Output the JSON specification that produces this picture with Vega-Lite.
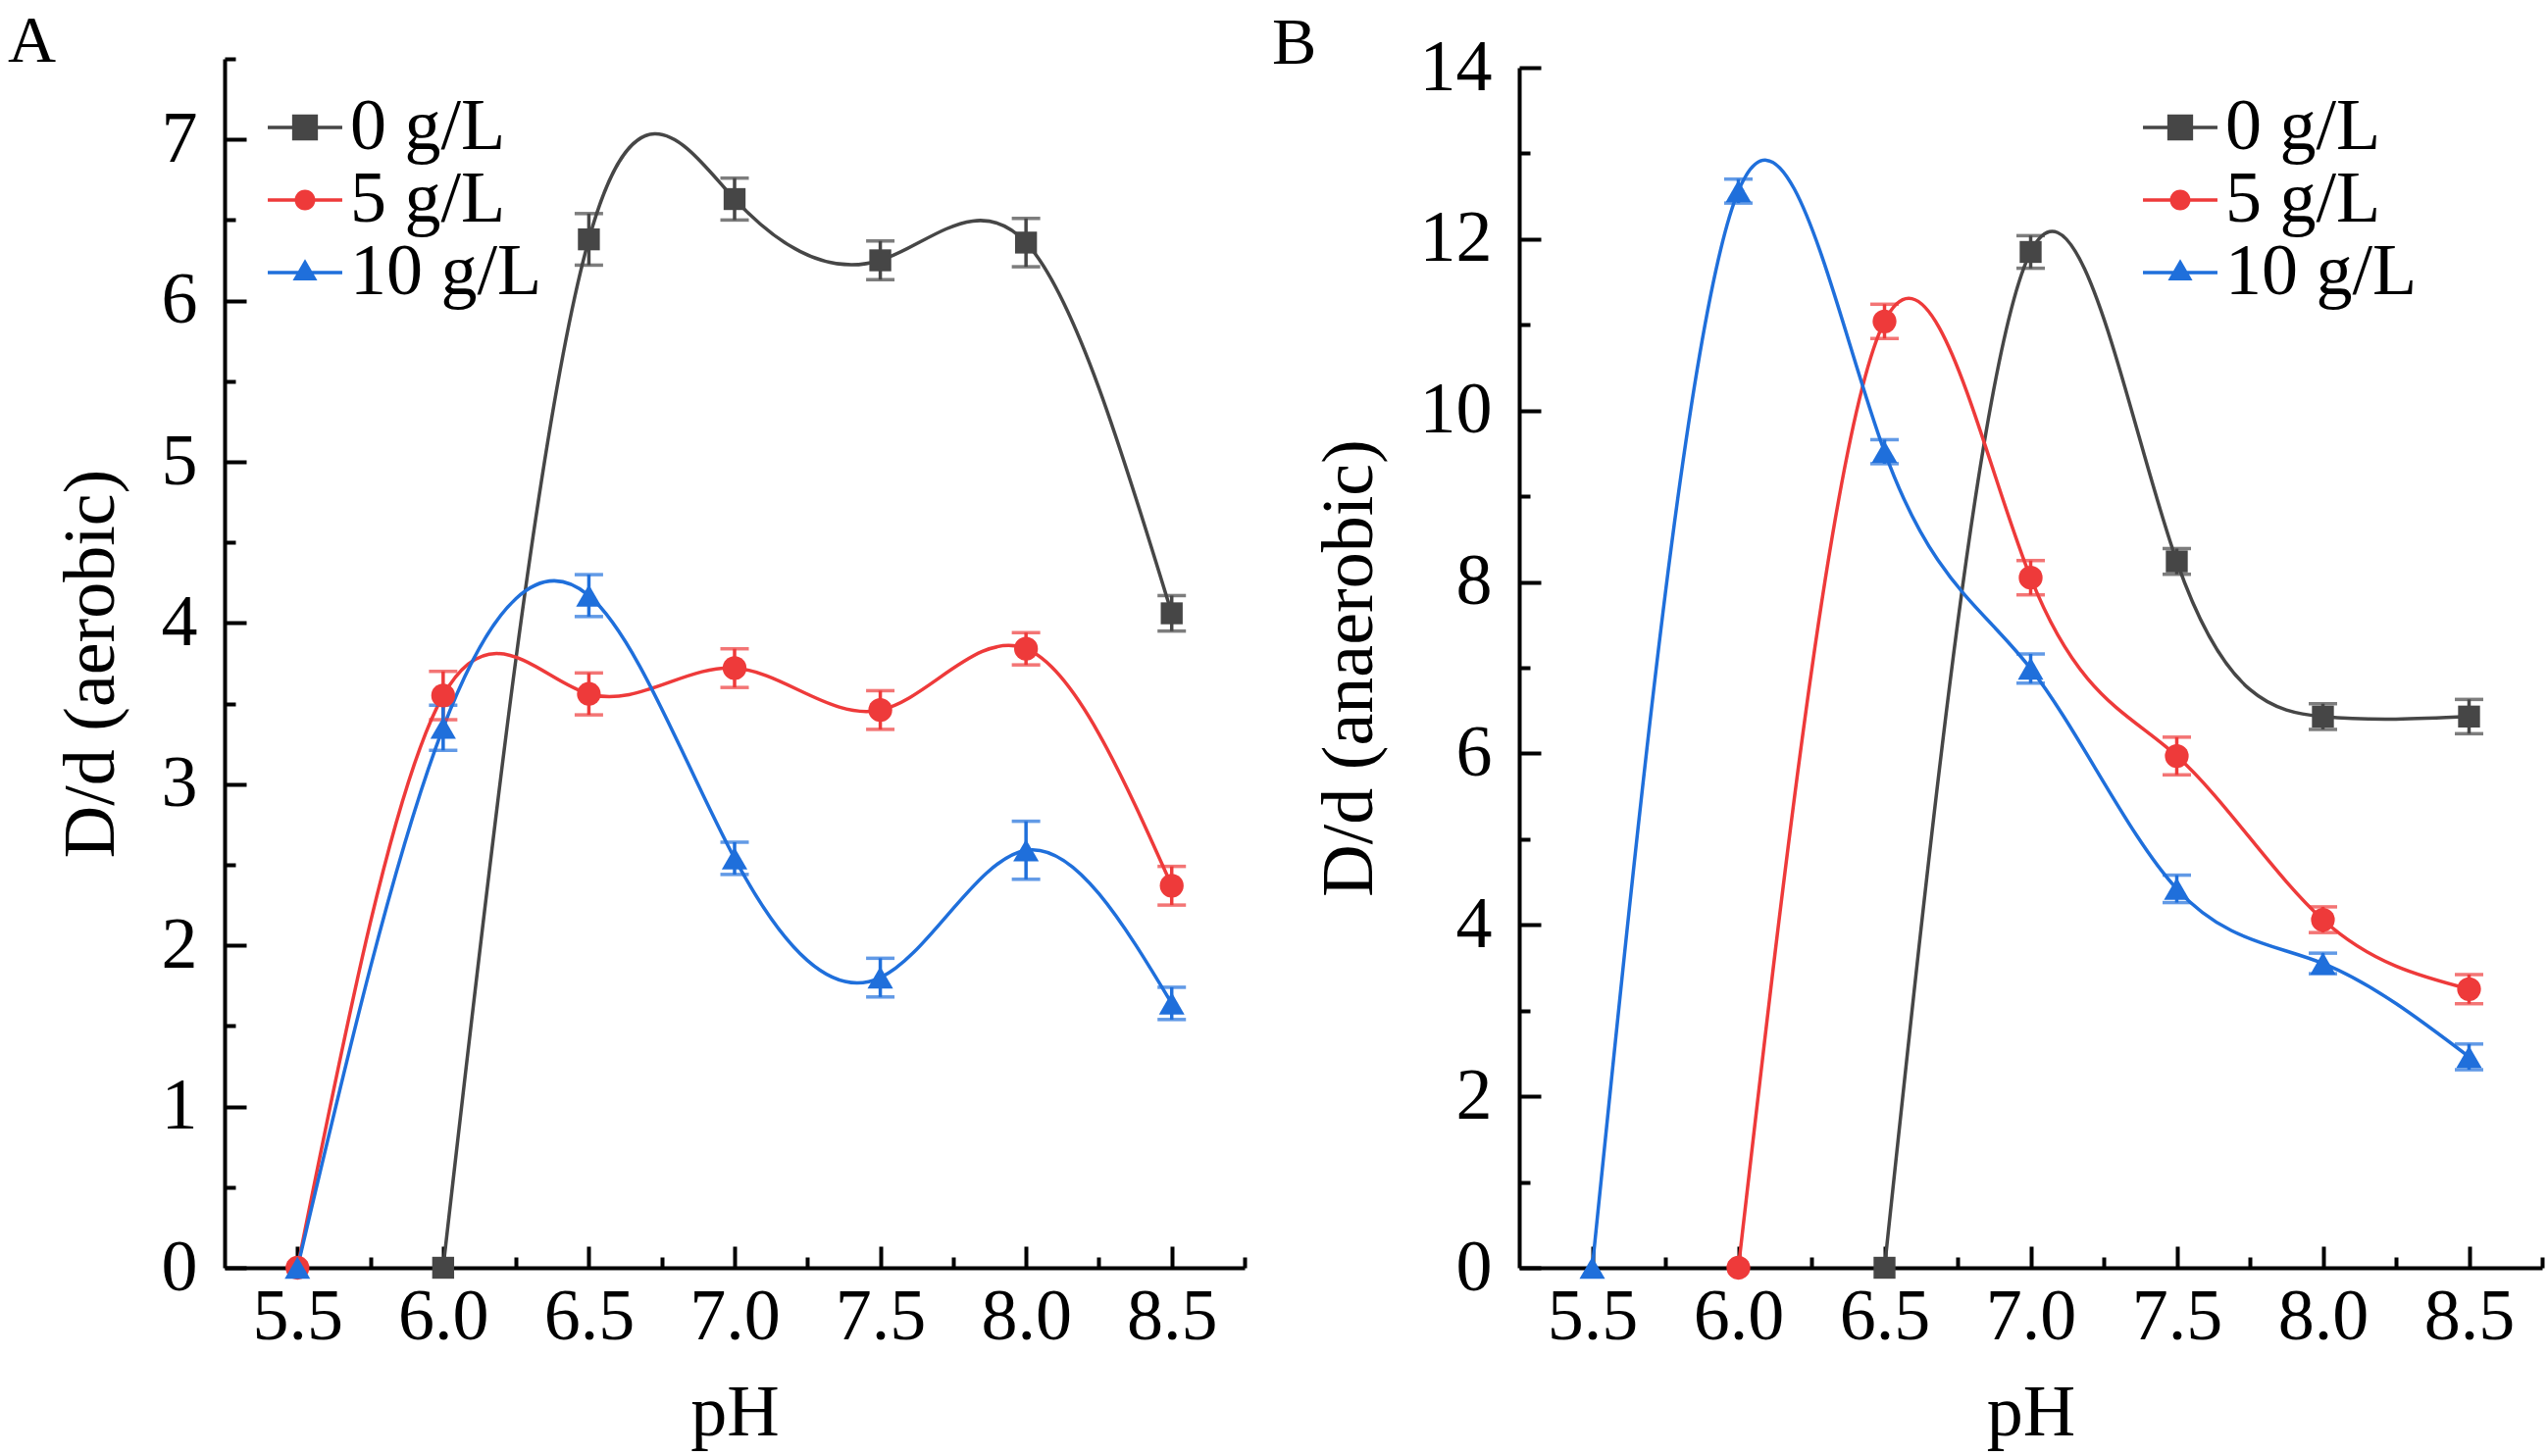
{
  "$schema": "https://vega.github.io/schema/vega-lite/v6.json",
  "background": "white",
  "padding": {"left": 8, "top": 9, "right": 2, "bottom": 5},
  "config": {
    "font": "Liberation Serif",
    "view": {"stroke": null},
    "axis": {
      "labelFont": "Liberation Serif", "titleFont": "Liberation Serif",
      "labelFontSize": 74, "titleFontSize": 74, "titleFontWeight": "normal",
      "labelColor": "black", "titleColor": "black",
      "domainColor": "black", "domainWidth": 4, "tickColor": "black", "tickWidth": 4,
      "grid": false
    },
    "axisX": {"titlePadding": 25, "labelPadding": 36},
    "axisY": {"titlePadding": 33, "labelPadding": 50},
    "legend": {
      "labelFont": "Liberation Serif", "labelFontSize": 74, "labelColor": "black",
      "padding": 0, "rowPadding": -3, "labelLimit": 500
    },
    "title": {"font": "Liberation Serif", "fontSize": 68, "fontWeight": "normal", "color": "black", "anchor": "start", "frame": "bounds", "baseline": "alphabetic"}
  },
  "datasets": {
    "a": [
      {"pH": 6.0, "conc": "0 g/L", "value": 0, "err": 0},
      {"pH": 6.5, "conc": "0 g/L", "value": 6.38, "err": 0.16},
      {"pH": 7.0, "conc": "0 g/L", "value": 6.63, "err": 0.13},
      {"pH": 7.5, "conc": "0 g/L", "value": 6.25, "err": 0.12},
      {"pH": 8.0, "conc": "0 g/L", "value": 6.36, "err": 0.15},
      {"pH": 8.5, "conc": "0 g/L", "value": 4.06, "err": 0.11},
      {"pH": 5.5, "conc": "5 g/L", "value": 0, "err": 0},
      {"pH": 6.0, "conc": "5 g/L", "value": 3.55, "err": 0.15},
      {"pH": 6.5, "conc": "5 g/L", "value": 3.56, "err": 0.13},
      {"pH": 7.0, "conc": "5 g/L", "value": 3.72, "err": 0.12},
      {"pH": 7.5, "conc": "5 g/L", "value": 3.46, "err": 0.12},
      {"pH": 8.0, "conc": "5 g/L", "value": 3.84, "err": 0.1},
      {"pH": 8.5, "conc": "5 g/L", "value": 2.37, "err": 0.12},
      {"pH": 5.5, "conc": "10 g/L", "value": 0, "err": 0},
      {"pH": 6.0, "conc": "10 g/L", "value": 3.35, "err": 0.14},
      {"pH": 6.5, "conc": "10 g/L", "value": 4.17, "err": 0.13},
      {"pH": 7.0, "conc": "10 g/L", "value": 2.54, "err": 0.1},
      {"pH": 7.5, "conc": "10 g/L", "value": 1.8, "err": 0.12},
      {"pH": 8.0, "conc": "10 g/L", "value": 2.59, "err": 0.18},
      {"pH": 8.5, "conc": "10 g/L", "value": 1.64, "err": 0.1}
    ],
    "b": [
      {"pH": 6.5, "conc": "0 g/L", "value": 0, "err": 0},
      {"pH": 7.0, "conc": "0 g/L", "value": 11.85, "err": 0.19},
      {"pH": 7.5, "conc": "0 g/L", "value": 8.24, "err": 0.15},
      {"pH": 8.0, "conc": "0 g/L", "value": 6.43, "err": 0.15},
      {"pH": 8.5, "conc": "0 g/L", "value": 6.43, "err": 0.2},
      {"pH": 6.0, "conc": "5 g/L", "value": 0, "err": 0},
      {"pH": 6.5, "conc": "5 g/L", "value": 11.04, "err": 0.2},
      {"pH": 7.0, "conc": "5 g/L", "value": 8.05, "err": 0.2},
      {"pH": 7.5, "conc": "5 g/L", "value": 5.97, "err": 0.22},
      {"pH": 8.0, "conc": "5 g/L", "value": 4.06, "err": 0.15},
      {"pH": 8.5, "conc": "5 g/L", "value": 3.25, "err": 0.17},
      {"pH": 5.5, "conc": "10 g/L", "value": 0, "err": 0},
      {"pH": 6.0, "conc": "10 g/L", "value": 12.56, "err": 0.14},
      {"pH": 6.5, "conc": "10 g/L", "value": 9.52, "err": 0.14},
      {"pH": 7.0, "conc": "10 g/L", "value": 6.99, "err": 0.17},
      {"pH": 7.5, "conc": "10 g/L", "value": 4.42, "err": 0.16},
      {"pH": 8.0, "conc": "10 g/L", "value": 3.55, "err": 0.12},
      {"pH": 8.5, "conc": "10 g/L", "value": 2.46, "err": 0.15}
    ]
  },
  "resolve": {
    "scale": {"color": "independent", "shape": "independent", "size": "independent"},
    "legend": {"color": "independent", "shape": "independent", "size": "independent"}
  },
  "spacing": 26,
  "hconcat": [
    {
      "width": 1040,
      "height": 1233,
      "title": {"text": "A", "dx": -48, "offset": -19},
      "data": {"name": "a"},
      "resolve": {"axis": {"x": "independent", "y": "independent"}, "scale": {"shape": "independent", "color": "independent"}},
      "layer": [
        {
          "mark": {"type": "line", "interpolate": "natural", "strokeWidth": 3.5},
          "encoding": {
            "x": {"field": "pH", "type": "quantitative", "scale": {"domain": [5.25, 8.75], "nice": false, "zero": false},
                  "axis": {"orient": "bottom", "values": [5.5, 6.0, 6.5, 7.0, 7.5, 8.0, 8.5], "format": ".1f", "tickSize": -22, "title": "pH"}},
            "y": {"field": "value", "type": "quantitative", "scale": {"domain": [0, 7.5], "nice": false},
                  "axis": {"orient": "left", "values": [0, 1, 2, 3, 4, 5, 6, 7], "tickSize": -22, "title": "D/d (aerobic)"}},
            "color": {"field": "conc", "type": "nominal",
                      "scale": {"domain": ["0 g/L", "5 g/L", "10 g/L"], "range": ["#464646", "#ee3a3a", "#1f6fdb"]},
                      "legend": null}
          }
        },
        {
          "transform": [{"filter": "datum.err > 0"}],
          "mark": {"type": "errorbar", "ticks": true, "size": 29, "thickness": 3.5},
          "encoding": {
            "x": {"field": "pH", "type": "quantitative", "axis": null},
            "y": {"field": "value", "type": "quantitative", "axis": null},
            "yError": {"field": "err"},
            "color": {"field": "conc", "type": "nominal",
                      "scale": {"domain": ["0 g/L", "5 g/L", "10 g/L"], "range": ["#464646", "#ee3a3a", "#1f6fdb"]},
                      "legend": null}
          }
        },
        {
          "mark": {"type": "point", "filled": true, "opacity": 1},
          "encoding": {
            "x": {"field": "pH", "type": "quantitative",
                  "axis": {"orient": "bottom", "values": [5.75, 6.25, 6.75, 7.25, 7.75, 8.25, 8.75], "labels": false, "domain": false, "tickSize": -11, "title": null}},
            "y": {"field": "value", "type": "quantitative",
                  "axis": {"orient": "left", "values": [0.5, 1.5, 2.5, 3.5, 4.5, 5.5, 6.5, 7.5], "labels": false, "domain": false, "tickSize": -11, "title": null}},
            "color": {"field": "conc", "type": "nominal",
                      "scale": {"domain": ["0 g/L", "5 g/L", "10 g/L"], "range": ["#464646", "#ee3a3a", "#1f6fdb"]},
                      "legend": null},
            "shape": {"field": "conc", "type": "nominal",
                      "scale": {"domain": ["0 g/L", "5 g/L", "10 g/L"], "range": ["square", "circle", "triangle-up"]},
                      "legend": null},
            "size": {"field": "conc", "type": "nominal",
                     "scale": {"domain": ["0 g/L", "5 g/L", "10 g/L"], "range": [500, 680, 820]},
                     "legend": null}
          }
        },
        {
          "transform": [{"filter": "false"}],
          "mark": {"type": "point", "filled": true, "opacity": 1, "size": 853},
          "encoding": {
            "x": {"field": "pH", "type": "quantitative", "axis": null},
            "y": {"field": "value", "type": "quantitative", "axis": null},
            "color": {"field": "conc", "type": "nominal",
                      "scale": {"domain": ["0 g/L", "5 g/L", "10 g/L"], "range": ["#464646", "#ee3a3a", "#1f6fdb"]},
                      "legend": {"title": null, "orient": "none", "legendX": 45, "legendY": 33, "symbolSize": 853, "labelOffset": 9}},
            "shape": {"field": "conc", "type": "nominal",
                      "scale": {"domain": ["0 g/L", "5 g/L", "10 g/L"],
                                "range": ["M-2.6,-0.12H2.6V0.12H-2.6ZM-0.9,-0.9H0.9V0.9H-0.9Z",
                                          "M-2.6,-0.12H2.6V0.12H-2.6ZM0.72,0A0.72,0.72,0,1,1,-0.72,0A0.72,0.72,0,1,1,0.72,0Z",
                                          "M-2.6,-0.12H2.6V0.12H-2.6ZM0,-0.95L0.86,0.55H-0.86Z"]},
                      "legend": {"title": null, "orient": "none", "legendX": 45, "legendY": 33, "symbolSize": 853, "labelOffset": 9}}
          }
        }
      ]
    },
    {
      "width": 1043,
      "height": 1233,
      "title": {"text": "B", "dx": -42, "offset": -47},
      "data": {"name": "b"},
      "resolve": {"axis": {"x": "independent", "y": "independent"}, "scale": {"shape": "independent", "color": "independent"}},
      "layer": [
        {
          "mark": {"type": "line", "interpolate": "natural", "strokeWidth": 3.5},
          "encoding": {
            "x": {"field": "pH", "type": "quantitative", "scale": {"domain": [5.25, 8.75], "nice": false, "zero": false},
                  "axis": {"orient": "bottom", "values": [5.5, 6.0, 6.5, 7.0, 7.5, 8.0, 8.5], "format": ".1f", "tickSize": -22, "title": "pH"}},
            "y": {"field": "value", "type": "quantitative", "scale": {"domain": [0, 14], "nice": false, "range": [1233, 9]},
                  "axis": {"orient": "left", "values": [0, 2, 4, 6, 8, 10, 12, 14], "tickSize": -22, "title": "D/d (anaerobic)"}},
            "color": {"field": "conc", "type": "nominal",
                      "scale": {"domain": ["0 g/L", "5 g/L", "10 g/L"], "range": ["#464646", "#ee3a3a", "#1f6fdb"]},
                      "legend": null}
          }
        },
        {
          "transform": [{"filter": "datum.err > 0"}],
          "mark": {"type": "errorbar", "ticks": true, "size": 29, "thickness": 3.5},
          "encoding": {
            "x": {"field": "pH", "type": "quantitative", "axis": null},
            "y": {"field": "value", "type": "quantitative", "axis": null},
            "yError": {"field": "err"},
            "color": {"field": "conc", "type": "nominal",
                      "scale": {"domain": ["0 g/L", "5 g/L", "10 g/L"], "range": ["#464646", "#ee3a3a", "#1f6fdb"]},
                      "legend": null}
          }
        },
        {
          "mark": {"type": "point", "filled": true, "opacity": 1},
          "encoding": {
            "x": {"field": "pH", "type": "quantitative",
                  "axis": {"orient": "bottom", "values": [5.75, 6.25, 6.75, 7.25, 7.75, 8.25, 8.75], "labels": false, "domain": false, "tickSize": -11, "title": null}},
            "y": {"field": "value", "type": "quantitative",
                  "axis": {"orient": "left", "values": [1, 3, 5, 7, 9, 11, 13], "labels": false, "domain": false, "tickSize": -11, "title": null}},
            "color": {"field": "conc", "type": "nominal",
                      "scale": {"domain": ["0 g/L", "5 g/L", "10 g/L"], "range": ["#464646", "#ee3a3a", "#1f6fdb"]},
                      "legend": null},
            "shape": {"field": "conc", "type": "nominal",
                      "scale": {"domain": ["0 g/L", "5 g/L", "10 g/L"], "range": ["square", "circle", "triangle-up"]},
                      "legend": null},
            "size": {"field": "conc", "type": "nominal",
                     "scale": {"domain": ["0 g/L", "5 g/L", "10 g/L"], "range": [500, 680, 820]},
                     "legend": null}
          }
        },
        {
          "transform": [{"filter": "false"}],
          "mark": {"type": "point", "filled": true, "opacity": 1, "size": 853},
          "encoding": {
            "x": {"field": "pH", "type": "quantitative", "axis": null},
            "y": {"field": "value", "type": "quantitative", "axis": null},
            "color": {"field": "conc", "type": "nominal",
                      "scale": {"domain": ["0 g/L", "5 g/L", "10 g/L"], "range": ["#464646", "#ee3a3a", "#1f6fdb"]},
                      "legend": {"title": null, "orient": "none", "legendX": 637, "legendY": 33, "symbolSize": 853, "labelOffset": 9}},
            "shape": {"field": "conc", "type": "nominal",
                      "scale": {"domain": ["0 g/L", "5 g/L", "10 g/L"],
                                "range": ["M-2.6,-0.12H2.6V0.12H-2.6ZM-0.9,-0.9H0.9V0.9H-0.9Z",
                                          "M-2.6,-0.12H2.6V0.12H-2.6ZM0.72,0A0.72,0.72,0,1,1,-0.72,0A0.72,0.72,0,1,1,0.72,0Z",
                                          "M-2.6,-0.12H2.6V0.12H-2.6ZM0,-0.95L0.86,0.55H-0.86Z"]},
                      "legend": {"title": null, "orient": "none", "legendX": 637, "legendY": 33, "symbolSize": 853, "labelOffset": 9}}
          }
        }
      ]
    }
  ]
}
